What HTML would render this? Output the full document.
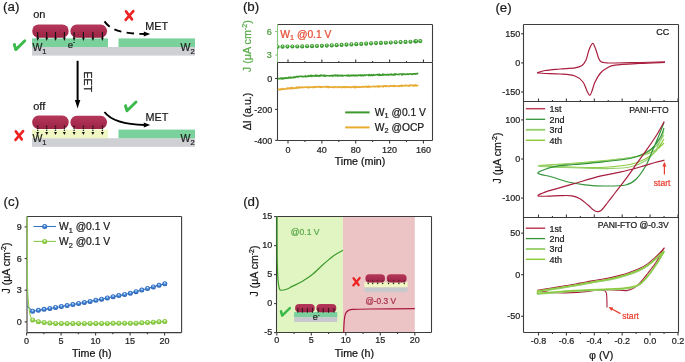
<!DOCTYPE html>
<html><head><meta charset="utf-8"><style>
html,body{margin:0;padding:0;background:#fff;}
svg{display:block;will-change:transform;}
text{font-family:"Liberation Sans", sans-serif;}
</style></head><body>
<svg width="685" height="362" viewBox="0 0 685 362" font-family='"Liberation Sans", sans-serif'>
<defs><filter id="soft" x="0" y="0" width="100%" height="100%" color-interpolation-filters="sRGB"><feGaussianBlur stdDeviation="0.3"/></filter></defs>
<g filter="url(#soft)">
<rect width="685" height="362" fill="#fff"/>
<defs>
<radialGradient id="gG" cx="0.5" cy="0.5" r="0.55" fx="0.48" fy="0.3"><stop offset="0" stop-color="#f4fff0"/><stop offset="0.22" stop-color="#9ad88a"/><stop offset="0.5" stop-color="#46a63a"/><stop offset="1" stop-color="#2a8424"/></radialGradient>
<radialGradient id="gB" cx="0.5" cy="0.5" r="0.55" fx="0.48" fy="0.3"><stop offset="0" stop-color="#f0f8ff"/><stop offset="0.22" stop-color="#8ab8f0"/><stop offset="0.5" stop-color="#3d7fd3"/><stop offset="1" stop-color="#2258a6"/></radialGradient>
<radialGradient id="gL" cx="0.5" cy="0.5" r="0.55" fx="0.48" fy="0.3"><stop offset="0" stop-color="#fbfff0"/><stop offset="0.22" stop-color="#c4ec98"/><stop offset="0.5" stop-color="#92d24e"/><stop offset="1" stop-color="#72b432"/></radialGradient>
<linearGradient id="blobG" x1="0" y1="0" x2="0" y2="1"><stop offset="0" stop-color="#b5385a"/><stop offset="1" stop-color="#9c2444"/></linearGradient>
<marker id="ah" markerWidth="6" markerHeight="6" refX="5" refY="3" orient="auto" markerUnits="userSpaceOnUse"><path d="M0,0 L6,3 L0,6 Z" fill="#000"/></marker>
</defs>
<text x="3.1" y="11.4" font-size="13.3" fill="#1a1a1a" text-anchor="start"  stroke="#1a1a1a" stroke-width="0.22">(a)</text>
<text x="33.2" y="17.7" font-size="11" fill="#1a1a1a" text-anchor="start"  stroke="#1a1a1a" stroke-width="0.22">on</text>
<text x="33.2" y="109.6" font-size="11" fill="#1a1a1a" text-anchor="start"  stroke="#1a1a1a" stroke-width="0.22">off</text>
<rect x="32" y="47.0" width="163" height="8.6" fill="#cfd0d4" />
<rect x="32" y="38.4" width="76" height="8.6" fill="#7bd19c" />
<rect x="118.5" y="38.4" width="76.5" height="8.6" fill="#7bd19c" />
<rect x="32.2" y="24.4" width="36.5" height="13.300000000000004" rx="6.32" ry="6.65" fill="url(#blobG)"/>
<rect x="70.4" y="24.599999999999998" width="36.599999999999994" height="13.100000000000005" rx="6.22" ry="6.55" fill="url(#blobG)"/>
<line x1="37.7" y1="31.9" x2="37.7" y2="38.9" stroke="#111" stroke-width="1.1" />
<path d="M36.300000000000004,37.599999999999994 L39.1,37.599999999999994 L37.7,41.0 Z" fill="#111"/>
<line x1="46.7" y1="31.9" x2="46.7" y2="38.9" stroke="#111" stroke-width="1.1" />
<path d="M45.300000000000004,37.599999999999994 L48.1,37.599999999999994 L46.7,41.0 Z" fill="#111"/>
<line x1="55.5" y1="31.9" x2="55.5" y2="38.9" stroke="#111" stroke-width="1.1" />
<path d="M54.1,37.599999999999994 L56.9,37.599999999999994 L55.5,41.0 Z" fill="#111"/>
<line x1="64.4" y1="31.9" x2="64.4" y2="38.9" stroke="#111" stroke-width="1.1" />
<path d="M63.00000000000001,37.599999999999994 L65.80000000000001,37.599999999999994 L64.4,41.0 Z" fill="#111"/>
<line x1="74.1" y1="31.9" x2="74.1" y2="38.9" stroke="#111" stroke-width="1.1" />
<path d="M72.69999999999999,37.599999999999994 L75.5,37.599999999999994 L74.1,41.0 Z" fill="#111"/>
<line x1="83.4" y1="31.9" x2="83.4" y2="38.9" stroke="#111" stroke-width="1.1" />
<path d="M82.0,37.599999999999994 L84.80000000000001,37.599999999999994 L83.4,41.0 Z" fill="#111"/>
<line x1="92.9" y1="31.9" x2="92.9" y2="38.9" stroke="#111" stroke-width="1.1" />
<path d="M91.5,37.599999999999994 L94.30000000000001,37.599999999999994 L92.9,41.0 Z" fill="#111"/>
<line x1="102.4" y1="31.9" x2="102.4" y2="38.9" stroke="#111" stroke-width="1.1" />
<path d="M101.0,37.599999999999994 L103.80000000000001,37.599999999999994 L102.4,41.0 Z" fill="#111"/>
<rect x="32" y="138.2" width="163" height="8.6" fill="#cfd0d4" />
<rect x="32" y="129.6" width="76" height="8.6" fill="#f0f7c2" />
<rect x="118.5" y="129.6" width="76.5" height="8.6" fill="#7bd19c" />
<rect x="32.2" y="115.6" width="36.5" height="13.300000000000011" rx="6.32" ry="6.65" fill="url(#blobG)"/>
<rect x="70.4" y="115.8" width="36.599999999999994" height="13.100000000000009" rx="6.22" ry="6.55" fill="url(#blobG)"/>
<circle cx="37.7" cy="126.19999999999999" r="0.75" fill="#111"/>
<circle cx="37.7" cy="128.2" r="0.75" fill="#111"/>
<circle cx="37.7" cy="130.2" r="0.75" fill="#111"/>
<path d="M36.2,132.0 L39.2,132.0 L37.7,135.0 Z" fill="#111"/>
<circle cx="46.7" cy="126.19999999999999" r="0.75" fill="#111"/>
<circle cx="46.7" cy="128.2" r="0.75" fill="#111"/>
<circle cx="46.7" cy="130.2" r="0.75" fill="#111"/>
<path d="M45.2,132.0 L48.2,132.0 L46.7,135.0 Z" fill="#111"/>
<circle cx="55.5" cy="126.19999999999999" r="0.75" fill="#111"/>
<circle cx="55.5" cy="128.2" r="0.75" fill="#111"/>
<circle cx="55.5" cy="130.2" r="0.75" fill="#111"/>
<path d="M54.0,132.0 L57.0,132.0 L55.5,135.0 Z" fill="#111"/>
<circle cx="64.4" cy="126.19999999999999" r="0.75" fill="#111"/>
<circle cx="64.4" cy="128.2" r="0.75" fill="#111"/>
<circle cx="64.4" cy="130.2" r="0.75" fill="#111"/>
<path d="M62.900000000000006,132.0 L65.9,132.0 L64.4,135.0 Z" fill="#111"/>
<circle cx="74.1" cy="126.19999999999999" r="0.75" fill="#111"/>
<circle cx="74.1" cy="128.2" r="0.75" fill="#111"/>
<circle cx="74.1" cy="130.2" r="0.75" fill="#111"/>
<path d="M72.6,132.0 L75.6,132.0 L74.1,135.0 Z" fill="#111"/>
<circle cx="83.4" cy="126.19999999999999" r="0.75" fill="#111"/>
<circle cx="83.4" cy="128.2" r="0.75" fill="#111"/>
<circle cx="83.4" cy="130.2" r="0.75" fill="#111"/>
<path d="M81.9,132.0 L84.9,132.0 L83.4,135.0 Z" fill="#111"/>
<circle cx="92.9" cy="126.19999999999999" r="0.75" fill="#111"/>
<circle cx="92.9" cy="128.2" r="0.75" fill="#111"/>
<circle cx="92.9" cy="130.2" r="0.75" fill="#111"/>
<path d="M91.4,132.0 L94.4,132.0 L92.9,135.0 Z" fill="#111"/>
<circle cx="102.4" cy="126.19999999999999" r="0.75" fill="#111"/>
<circle cx="102.4" cy="128.2" r="0.75" fill="#111"/>
<circle cx="102.4" cy="130.2" r="0.75" fill="#111"/>
<path d="M100.9,132.0 L103.9,132.0 L102.4,135.0 Z" fill="#111"/>
<text x="32.4" y="51.2" font-size="10.5" fill="#222" stroke="#222" stroke-width="0.22">W<tspan font-size="7.5" dy="3">1</tspan></text>
<text x="180.6" y="51.2" font-size="10.5" fill="#222" stroke="#222" stroke-width="0.22">W<tspan font-size="7.5" dy="3">2</tspan></text>
<text x="32.4" y="142.4" font-size="10.5" fill="#222" stroke="#222" stroke-width="0.22">W<tspan font-size="7.5" dy="3">1</tspan></text>
<text x="180.6" y="142.4" font-size="10.5" fill="#222" stroke="#222" stroke-width="0.22">W<tspan font-size="7.5" dy="3">2</tspan></text>
<text x="67.8" y="47.6" font-size="9.5" fill="#222" stroke="#222" stroke-width="0.22">e<tspan font-size="6" dy="-4">-</tspan></text>
<text x="145.3" y="29.6" font-size="10.8" fill="#1a1a1a" text-anchor="start"  stroke="#1a1a1a" stroke-width="0.22">MET</text>
<text x="145.5" y="120.6" font-size="10.8" fill="#1a1a1a" text-anchor="start"  stroke="#1a1a1a" stroke-width="0.22">MET</text>
<path d="M104.5,21.4 C110,29.5 121,33.6 145,34" fill="none" stroke="#000" stroke-width="1.9" stroke-dasharray="7.4,5.4"/>
<path d="M143.8,31.4 L150.2,34 L143.8,36.6 Z" fill="#000"/>
<path d="M104.5,112 C110,119.5 122,124.5 145,125" fill="none" stroke="#000" stroke-width="1.9"/>
<path d="M143.8,122.4 L150.2,125 L143.8,127.6 Z" fill="#000"/>
<line x1="77.6" y1="60.8" x2="77.6" y2="101" stroke="#000" stroke-width="2" />
<path d="M74.9,100 L80.3,100 L77.6,108.6 Z" fill="#000"/>
<text transform="translate(83.8,71.6) rotate(90)" font-size="10.5" fill="#1a1a1a" stroke="#1a1a1a" stroke-width="0.22">EET</text>
<path d="M126.00,11.40 L132.00,19.40 M133.30,11.10 L125.70,19.90" stroke="#ee2222" stroke-width="2.60" stroke-linecap="round" fill="none"/>
<path d="M15.80,131.40 L21.80,139.40 M23.10,131.10 L15.50,139.90" stroke="#ee2222" stroke-width="2.60" stroke-linecap="round" fill="none"/>
<path d="M14.30,44.60 L15.80,49.60 L24.80,40.80" stroke="#3cba4c" stroke-width="2.90" stroke-linecap="round" stroke-linejoin="round" fill="none"/>
<path d="M13.20,44.00 L15.40,43.40 L16.40,48.10 L15.00,50.20 Z" fill="#3cba4c"/>
<path d="M125.50,105.80 L127.00,110.80 L136.00,102.00" stroke="#3cba4c" stroke-width="2.90" stroke-linecap="round" stroke-linejoin="round" fill="none"/>
<path d="M124.40,105.20 L126.60,104.60 L127.60,109.30 L126.20,111.40 Z" fill="#3cba4c"/>
<text x="242.9" y="11.4" font-size="13.3" fill="#1a1a1a" text-anchor="start"  stroke="#1a1a1a" stroke-width="0.22">(b)</text>
<line x1="277.5" y1="24.5" x2="432.5" y2="24.5" stroke="#3c3c3c" stroke-width="1.1" />
<line x1="432.5" y1="24.5" x2="432.5" y2="62.5" stroke="#3c3c3c" stroke-width="1.1" />
<line x1="277.5" y1="24.5" x2="277.5" y2="62.5" stroke="#88c47c" stroke-width="1.1" />
<line x1="275.1" y1="55.0" x2="277.5" y2="55.0" stroke="#88c47c" stroke-width="1.1" />
<text x="271.8" y="58.2" font-size="9" fill="#4a9a3a" text-anchor="end"  stroke="#4a9a3a" stroke-width="0.22">3</text>
<line x1="275.1" y1="31.509999999999998" x2="277.5" y2="31.509999999999998" stroke="#88c47c" stroke-width="1.1" />
<text x="271.8" y="34.71" font-size="9" fill="#4a9a3a" text-anchor="end"  stroke="#4a9a3a" stroke-width="0.22">6</text>
<line x1="288.0" y1="62.5" x2="288.0" y2="59.5" stroke="#3c3c3c" stroke-width="1.1" />
<line x1="304.93" y1="62.5" x2="304.93" y2="60.9" stroke="#3c3c3c" stroke-width="1.1" />
<line x1="321.86" y1="62.5" x2="321.86" y2="59.5" stroke="#3c3c3c" stroke-width="1.1" />
<line x1="338.79" y1="62.5" x2="338.79" y2="60.9" stroke="#3c3c3c" stroke-width="1.1" />
<line x1="355.72" y1="62.5" x2="355.72" y2="59.5" stroke="#3c3c3c" stroke-width="1.1" />
<line x1="372.65" y1="62.5" x2="372.65" y2="60.9" stroke="#3c3c3c" stroke-width="1.1" />
<line x1="389.58" y1="62.5" x2="389.58" y2="59.5" stroke="#3c3c3c" stroke-width="1.1" />
<line x1="406.51" y1="62.5" x2="406.51" y2="60.9" stroke="#3c3c3c" stroke-width="1.1" />
<line x1="423.44" y1="62.5" x2="423.44" y2="59.5" stroke="#3c3c3c" stroke-width="1.1" />
<clipPath id="cpb"><rect x="277.3" y="24" width="156" height="40"/></clipPath><g clip-path="url(#cpb)">
<circle cx="277.60" cy="46.70" r="2.05" fill="url(#gG)"/>
<circle cx="282.52" cy="46.65" r="2.05" fill="url(#gG)"/>
<circle cx="287.44" cy="46.59" r="2.05" fill="url(#gG)"/>
<circle cx="292.36" cy="46.54" r="2.05" fill="url(#gG)"/>
<circle cx="297.28" cy="46.48" r="2.05" fill="url(#gG)"/>
<circle cx="302.20" cy="46.39" r="2.05" fill="url(#gG)"/>
<circle cx="307.12" cy="46.26" r="2.05" fill="url(#gG)"/>
<circle cx="312.04" cy="46.13" r="2.05" fill="url(#gG)"/>
<circle cx="316.96" cy="46.01" r="2.05" fill="url(#gG)"/>
<circle cx="321.88" cy="45.86" r="2.05" fill="url(#gG)"/>
<circle cx="326.80" cy="45.62" r="2.05" fill="url(#gG)"/>
<circle cx="331.72" cy="45.38" r="2.05" fill="url(#gG)"/>
<circle cx="336.64" cy="45.15" r="2.05" fill="url(#gG)"/>
<circle cx="341.56" cy="44.91" r="2.05" fill="url(#gG)"/>
<circle cx="346.48" cy="44.67" r="2.05" fill="url(#gG)"/>
<circle cx="351.40" cy="44.42" r="2.05" fill="url(#gG)"/>
<circle cx="356.32" cy="44.15" r="2.05" fill="url(#gG)"/>
<circle cx="361.24" cy="43.89" r="2.05" fill="url(#gG)"/>
<circle cx="366.16" cy="43.63" r="2.05" fill="url(#gG)"/>
<circle cx="371.08" cy="43.36" r="2.05" fill="url(#gG)"/>
<circle cx="376.00" cy="43.10" r="2.05" fill="url(#gG)"/>
<circle cx="380.92" cy="42.90" r="2.05" fill="url(#gG)"/>
<circle cx="385.84" cy="42.71" r="2.05" fill="url(#gG)"/>
<circle cx="390.76" cy="42.51" r="2.05" fill="url(#gG)"/>
<circle cx="395.68" cy="42.31" r="2.05" fill="url(#gG)"/>
<circle cx="400.60" cy="42.12" r="2.05" fill="url(#gG)"/>
<circle cx="405.52" cy="41.92" r="2.05" fill="url(#gG)"/>
<circle cx="410.44" cy="41.72" r="2.05" fill="url(#gG)"/>
<circle cx="415.36" cy="41.37" r="2.05" fill="url(#gG)"/>
<circle cx="420.28" cy="41.10" r="2.05" fill="url(#gG)"/>
<circle cx="416.2" cy="41.2" r="2.05" fill="url(#gG)"/>
</g>
<text x="280.3" y="37.6" font-size="10.3" fill="#e54a32" stroke="#e54a32" stroke-width="0.22">W<tspan font-size="7.3" dy="2.6">1</tspan><tspan dy="-2.6"> @0.1 V</tspan></text>
<text transform="translate(250.8,46.2) rotate(-90)" font-size="10.8" fill="#5aaa4a" text-anchor="middle" stroke="#5aaa4a" stroke-width="0.22">J (μA cm<tspan font-size="7" dy="-3.5">-2</tspan><tspan dy="3.5">)</tspan></text>
<line x1="277.5" y1="62.5" x2="432.5" y2="62.5" stroke="#3c3c3c" stroke-width="1.1" />
<line x1="432.5" y1="62.5" x2="432.5" y2="140.5" stroke="#3c3c3c" stroke-width="1.1" />
<line x1="277.5" y1="62.5" x2="277.5" y2="140.5" stroke="#3c3c3c" stroke-width="1.1" />
<line x1="277.5" y1="140.5" x2="432.5" y2="140.5" stroke="#3c3c3c" stroke-width="1.1" />
<line x1="275.1" y1="78.5" x2="277.5" y2="78.5" stroke="#3c3c3c" stroke-width="1.1" />
<text x="272.2" y="81.7" font-size="9" fill="#222" text-anchor="end"  stroke="#222" stroke-width="0.22">0</text>
<line x1="275.1" y1="109.45" x2="277.5" y2="109.45" stroke="#3c3c3c" stroke-width="1.1" />
<text x="272.2" y="112.65" font-size="9" fill="#222" text-anchor="end"  stroke="#222" stroke-width="0.22">-200</text>
<line x1="275.1" y1="140.4" x2="277.5" y2="140.4" stroke="#3c3c3c" stroke-width="1.1" />
<text x="272.2" y="143.6" font-size="9" fill="#222" text-anchor="end"  stroke="#222" stroke-width="0.22">-400</text>
<line x1="288.0" y1="140.5" x2="288.0" y2="143.5" stroke="#3c3c3c" stroke-width="1.1" />
<line x1="304.93" y1="140.5" x2="304.93" y2="142.1" stroke="#3c3c3c" stroke-width="1.1" />
<line x1="321.86" y1="140.5" x2="321.86" y2="143.5" stroke="#3c3c3c" stroke-width="1.1" />
<line x1="338.79" y1="140.5" x2="338.79" y2="142.1" stroke="#3c3c3c" stroke-width="1.1" />
<line x1="355.72" y1="140.5" x2="355.72" y2="143.5" stroke="#3c3c3c" stroke-width="1.1" />
<line x1="372.65" y1="140.5" x2="372.65" y2="142.1" stroke="#3c3c3c" stroke-width="1.1" />
<line x1="389.58" y1="140.5" x2="389.58" y2="143.5" stroke="#3c3c3c" stroke-width="1.1" />
<line x1="406.51" y1="140.5" x2="406.51" y2="142.1" stroke="#3c3c3c" stroke-width="1.1" />
<line x1="423.44" y1="140.5" x2="423.44" y2="143.5" stroke="#3c3c3c" stroke-width="1.1" />
<text x="288.0" y="152.6" font-size="9" fill="#222" text-anchor="middle"  stroke="#222" stroke-width="0.22">0</text>
<text x="321.86" y="152.6" font-size="9" fill="#222" text-anchor="middle"  stroke="#222" stroke-width="0.22">40</text>
<text x="355.72" y="152.6" font-size="9" fill="#222" text-anchor="middle"  stroke="#222" stroke-width="0.22">80</text>
<text x="389.58" y="152.6" font-size="9" fill="#222" text-anchor="middle"  stroke="#222" stroke-width="0.22">120</text>
<text x="423.44" y="152.6" font-size="9" fill="#222" text-anchor="middle"  stroke="#222" stroke-width="0.22">160</text>
<text x="360.0" y="165.0" font-size="10.7" fill="#111" text-anchor="middle"  stroke="#111" stroke-width="0.22">Time (min)</text>
<text transform="translate(251.4,111.5) rotate(-90)" font-size="10.5" fill="#111" text-anchor="middle" stroke="#111" stroke-width="0.22">ΔI (a.u.)</text>
<path d="M277.80,78.50 L278.30,78.73 L278.80,78.53 L279.30,78.70 L279.80,78.68 L280.30,78.13 L280.80,78.04 L281.30,78.74 L281.80,78.18 L282.30,78.11 L282.80,78.76 L283.30,78.24 L283.80,78.53 L284.30,78.16 L284.80,78.27 L285.30,77.78 L285.80,78.18 L286.30,78.34 L286.80,77.99 L287.30,78.15 L287.80,78.04 L288.30,77.45 L288.80,78.03 L289.30,77.84 L289.80,77.54 L290.30,77.24 L290.80,77.92 L291.30,77.51 L291.80,77.66 L292.30,77.74 L292.80,77.53 L293.30,77.65 L293.80,77.11 L294.30,77.41 L294.80,77.03 L295.30,77.40 L295.80,77.29 L296.30,76.52 L296.80,76.49 L297.30,76.50 L297.80,77.10 L298.30,76.56 L298.80,76.67 L299.30,76.31 L299.80,76.43 L300.30,76.29 L300.80,76.23 L301.30,76.43 L301.80,76.41 L302.30,76.67 L302.80,76.45 L303.30,76.66 L303.80,76.57 L304.30,76.67 L304.80,76.37 L305.30,75.89 L305.80,76.50 L306.30,76.57 L306.80,76.50 L307.30,76.18 L307.80,76.29 L308.30,75.82 L308.80,76.36 L309.30,76.10 L309.80,75.83 L310.30,75.61 L310.80,76.30 L311.30,76.40 L311.80,75.57 L312.30,76.19 L312.80,75.82 L313.30,75.57 L313.80,75.68 L314.30,76.09 L314.80,76.16 L315.30,75.39 L315.80,75.89 L316.30,75.36 L316.80,75.94 L317.30,75.58 L317.80,76.05 L318.30,76.13 L318.80,75.70 L319.30,76.14 L319.80,75.52 L320.30,75.31 L320.80,75.78 L321.30,75.27 L321.80,75.42 L322.30,75.60 L322.80,75.78 L323.30,75.37 L323.80,75.27 L324.30,76.01 L324.80,75.51 L325.30,76.09 L325.80,76.03 L326.30,75.56 L326.80,75.64 L327.30,75.69 L327.80,75.80 L328.30,75.75 L328.80,75.72 L329.30,75.77 L329.80,76.06 L330.30,75.67 L330.80,75.60 L331.30,75.86 L331.80,75.42 L332.30,75.48 L332.80,76.08 L333.30,75.67 L333.80,75.69 L334.30,75.21 L334.80,75.57 L335.30,75.72 L335.80,75.21 L336.30,75.75 L336.80,75.76 L337.30,75.24 L337.80,75.75 L338.30,75.61 L338.80,75.80 L339.30,75.50 L339.80,75.82 L340.30,75.84 L340.80,75.20 L341.30,75.23 L341.80,75.78 L342.30,76.04 L342.80,75.40 L343.30,75.58 L343.80,75.70 L344.30,75.46 L344.80,75.49 L345.30,75.45 L345.80,75.50 L346.30,75.70 L346.80,75.43 L347.30,75.50 L347.80,75.85 L348.30,75.18 L348.80,75.67 L349.30,75.81 L349.80,75.43 L350.30,75.34 L350.80,75.85 L351.30,75.33 L351.80,75.27 L352.30,75.48 L352.80,75.70 L353.30,75.15 L353.80,75.34 L354.30,75.34 L354.80,75.77 L355.30,75.40 L355.80,75.77 L356.30,75.13 L356.80,75.27 L357.30,75.54 L357.80,75.74 L358.30,75.33 L358.80,75.12 L359.30,75.01 L359.80,75.37 L360.30,75.05 L360.80,75.59 L361.30,75.60 L361.80,75.00 L362.30,75.07 L362.80,75.54 L363.30,75.37 L363.80,75.51 L364.30,75.08 L364.80,74.87 L365.30,75.00 L365.80,75.44 L366.30,74.96 L366.80,75.01 L367.30,75.06 L367.80,75.05 L368.30,75.03 L368.80,75.48 L369.30,74.78 L369.80,74.63 L370.30,75.46 L370.80,75.39 L371.30,75.47 L371.80,74.96 L372.30,75.41 L372.80,75.38 L373.30,74.73 L373.80,75.19 L374.30,75.26 L374.80,75.09 L375.30,74.94 L375.80,74.72 L376.30,74.76 L376.80,74.64 L377.30,74.48 L377.80,74.94 L378.30,74.65 L378.80,75.11 L379.30,74.41 L379.80,75.17 L380.30,74.97 L380.80,75.17 L381.30,75.13 L381.80,75.12 L382.30,74.82 L382.80,74.31 L383.30,74.95 L383.80,74.43 L384.30,74.53 L384.80,74.85 L385.30,74.72 L385.80,74.61 L386.30,75.07 L386.80,74.76 L387.30,74.51 L387.80,74.42 L388.30,74.96 L388.80,74.60 L389.30,74.87 L389.80,74.47 L390.30,74.32 L390.80,74.62 L391.30,74.86 L391.80,74.27 L392.30,74.82 L392.80,74.92 L393.30,74.81 L393.80,74.82 L394.30,74.07 L394.80,74.62 L395.30,74.82 L395.80,74.08 L396.30,74.27 L396.80,74.26 L397.30,74.48 L397.80,74.37 L398.30,74.41 L398.80,74.67 L399.30,73.97 L399.80,74.00 L400.30,74.06 L400.80,74.05 L401.30,73.99 L401.80,74.79 L402.30,74.67 L402.80,73.97 L403.30,74.34 L403.80,74.16 L404.30,74.15 L404.80,74.17 L405.30,74.43 L405.80,74.36 L406.30,74.15 L406.80,73.99 L407.30,74.10 L407.80,73.91 L408.30,74.28 L408.80,74.42 L409.30,74.11 L409.80,73.83 L410.30,73.89 L410.80,74.03 L411.30,74.20 L411.80,74.33 L412.30,73.93 L412.80,74.28 L413.30,74.08 L413.80,73.87 L414.30,73.79 L414.80,73.86 L415.30,74.01 L415.80,73.72 L416.30,73.94 L416.80,73.69 L417.30,73.46 L417.80,73.69 L418.30,73.80" fill="none" stroke="#3c9a2c" stroke-width="1.6"/>
<path d="M277.80,89.13 L278.30,89.40 L278.80,89.35 L279.30,89.71 L279.80,89.71 L280.30,89.16 L280.80,89.58 L281.30,89.43 L281.80,88.91 L282.30,89.04 L282.80,88.68 L283.30,89.25 L283.80,89.07 L284.30,89.22 L284.80,89.08 L285.30,88.92 L285.80,88.93 L286.30,88.73 L286.80,88.26 L287.30,88.65 L287.80,88.07 L288.30,88.15 L288.80,88.67 L289.30,87.96 L289.80,87.95 L290.30,87.92 L290.80,88.58 L291.30,87.91 L291.80,87.73 L292.30,88.42 L292.80,87.74 L293.30,88.35 L293.80,88.15 L294.30,88.26 L294.80,88.32 L295.30,87.95 L295.80,88.10 L296.30,87.38 L296.80,88.00 L297.30,87.73 L297.80,87.87 L298.30,87.28 L298.80,87.82 L299.30,87.95 L299.80,87.12 L300.30,87.33 L300.80,87.53 L301.30,87.75 L301.80,87.21 L302.30,87.14 L302.80,87.18 L303.30,87.49 L303.80,87.60 L304.30,87.26 L304.80,87.22 L305.30,87.23 L305.80,87.17 L306.30,87.22 L306.80,86.90 L307.30,87.26 L307.80,87.67 L308.30,87.14 L308.80,87.43 L309.30,86.88 L309.80,87.35 L310.30,87.39 L310.80,87.30 L311.30,87.14 L311.80,87.09 L312.30,87.22 L312.80,87.43 L313.30,86.74 L313.80,86.68 L314.30,87.25 L314.80,87.38 L315.30,87.01 L315.80,86.92 L316.30,87.15 L316.80,86.66 L317.30,86.71 L317.80,86.64 L318.30,86.98 L318.80,86.74 L319.30,86.67 L319.80,87.09 L320.30,87.33 L320.80,86.74 L321.30,87.12 L321.80,86.86 L322.30,87.26 L322.80,87.02 L323.30,86.74 L323.80,86.70 L324.30,86.53 L324.80,86.95 L325.30,86.86 L325.80,86.68 L326.30,86.85 L326.80,86.82 L327.30,87.23 L327.80,86.67 L328.30,87.44 L328.80,86.98 L329.30,87.10 L329.80,86.98 L330.30,87.32 L330.80,87.31 L331.30,87.08 L331.80,87.01 L332.30,87.23 L332.80,87.36 L333.30,86.95 L333.80,87.26 L334.30,87.47 L334.80,87.03 L335.30,86.82 L335.80,86.83 L336.30,87.27 L336.80,87.23 L337.30,87.49 L337.80,87.40 L338.30,86.86 L338.80,86.82 L339.30,86.88 L339.80,86.82 L340.30,87.29 L340.80,87.44 L341.30,87.48 L341.80,86.90 L342.30,87.46 L342.80,86.96 L343.30,87.07 L343.80,87.35 L344.30,86.77 L344.80,86.78 L345.30,87.46 L345.80,86.97 L346.30,87.04 L346.80,87.24 L347.30,87.33 L347.80,86.74 L348.30,87.04 L348.80,87.13 L349.30,87.18 L349.80,86.94 L350.30,87.27 L350.80,87.59 L351.30,87.07 L351.80,87.19 L352.30,86.80 L352.80,86.92 L353.30,87.26 L353.80,86.75 L354.30,87.43 L354.80,87.44 L355.30,86.70 L355.80,87.44 L356.30,86.92 L356.80,87.26 L357.30,87.24 L357.80,86.81 L358.30,87.14 L358.80,87.10 L359.30,87.23 L359.80,86.73 L360.30,87.15 L360.80,87.33 L361.30,87.05 L361.80,86.92 L362.30,86.52 L362.80,86.85 L363.30,86.71 L363.80,87.03 L364.30,86.98 L364.80,86.87 L365.30,86.51 L365.80,86.91 L366.30,86.88 L366.80,86.46 L367.30,87.09 L367.80,86.87 L368.30,86.37 L368.80,87.09 L369.30,86.36 L369.80,86.52 L370.30,86.86 L370.80,86.73 L371.30,86.68 L371.80,86.75 L372.30,86.57 L372.80,86.42 L373.30,86.29 L373.80,86.18 L374.30,86.75 L374.80,86.77 L375.30,86.56 L375.80,86.73 L376.30,86.37 L376.80,86.27 L377.30,86.37 L377.80,86.79 L378.30,86.03 L378.80,86.44 L379.30,86.19 L379.80,86.65 L380.30,86.26 L380.80,86.23 L381.30,86.28 L381.80,86.39 L382.30,86.58 L382.80,86.19 L383.30,86.62 L383.80,85.94 L384.30,86.07 L384.80,85.90 L385.30,85.90 L385.80,86.49 L386.30,86.43 L386.80,85.92 L387.30,85.91 L387.80,86.10 L388.30,86.38 L388.80,86.43 L389.30,86.36 L389.80,86.20 L390.30,85.79 L390.80,86.00 L391.30,85.80 L391.80,86.09 L392.30,86.11 L392.80,85.77 L393.30,85.80 L393.80,86.26 L394.30,85.57 L394.80,86.25 L395.30,86.32 L395.80,86.35 L396.30,85.83 L396.80,85.97 L397.30,85.98 L397.80,86.01 L398.30,86.31 L398.80,86.03 L399.30,85.67 L399.80,86.16 L400.30,85.81 L400.80,85.90 L401.30,86.00 L401.80,85.33 L402.30,86.01 L402.80,85.90 L403.30,85.73 L403.80,85.74 L404.30,85.67 L404.80,85.42 L405.30,85.71 L405.80,85.25 L406.30,85.65 L406.80,85.77 L407.30,85.57 L407.80,85.67 L408.30,86.01 L408.80,85.93 L409.30,85.24 L409.80,85.81 L410.30,85.65 L410.80,85.12 L411.30,85.38 L411.80,85.25 L412.30,85.10 L412.80,85.50 L413.30,85.84 L413.80,85.28 L414.30,85.76 L414.80,85.58 L415.30,85.06 L415.80,85.70 L416.30,85.46 L416.80,85.74 L417.30,85.53 L417.80,85.54 L418.30,85.17" fill="none" stroke="#e8aa30" stroke-width="1.6"/>
<line x1="345.2" y1="112.4" x2="369.6" y2="112.4" stroke="#3c9a2c" stroke-width="2.0" />
<line x1="345.2" y1="127.4" x2="369.6" y2="127.4" stroke="#e8aa30" stroke-width="2.0" />
<text x="374.8" y="115.5" font-size="10.3" fill="#1a1a1a" stroke="#1a1a1a" stroke-width="0.22">W<tspan font-size="7.3" dy="2.6">1</tspan><tspan dy="-2.6"> @0.1 V</tspan></text>
<text x="374.8" y="130.5" font-size="10.3" fill="#1a1a1a" stroke="#1a1a1a" stroke-width="0.22">W<tspan font-size="7.3" dy="2.6">2</tspan><tspan dy="-2.6"> @OCP</tspan></text>
<text x="3.6" y="206.1" font-size="13.3" fill="#1a1a1a" text-anchor="start"  stroke="#1a1a1a" stroke-width="0.22">(c)</text>
<line x1="27.0" y1="216.5" x2="181.6" y2="216.5" stroke="#3c3c3c" stroke-width="1.1" />
<line x1="181.6" y1="216.5" x2="181.6" y2="332.6" stroke="#3c3c3c" stroke-width="1.1" />
<line x1="27.0" y1="216.5" x2="27.0" y2="332.6" stroke="#3c3c3c" stroke-width="1.1" />
<line x1="27.0" y1="332.6" x2="181.6" y2="332.6" stroke="#3c3c3c" stroke-width="1.1" />
<line x1="24.6" y1="321.9" x2="27.0" y2="321.9" stroke="#3c3c3c" stroke-width="1.1" />
<text x="21.8" y="325.09999999999997" font-size="9" fill="#222" text-anchor="end"  stroke="#222" stroke-width="0.22">0</text>
<line x1="24.6" y1="290.21999999999997" x2="27.0" y2="290.21999999999997" stroke="#3c3c3c" stroke-width="1.1" />
<text x="21.8" y="293.41999999999996" font-size="9" fill="#222" text-anchor="end"  stroke="#222" stroke-width="0.22">3</text>
<line x1="24.6" y1="258.53999999999996" x2="27.0" y2="258.53999999999996" stroke="#3c3c3c" stroke-width="1.1" />
<text x="21.8" y="261.73999999999995" font-size="9" fill="#222" text-anchor="end"  stroke="#222" stroke-width="0.22">6</text>
<line x1="24.6" y1="226.85999999999996" x2="27.0" y2="226.85999999999996" stroke="#3c3c3c" stroke-width="1.1" />
<text x="21.8" y="230.05999999999995" font-size="9" fill="#222" text-anchor="end"  stroke="#222" stroke-width="0.22">9</text>
<line x1="26.6" y1="332.6" x2="26.6" y2="335.6" stroke="#3c3c3c" stroke-width="1.1" />
<line x1="43.85" y1="332.6" x2="43.85" y2="334.20000000000005" stroke="#3c3c3c" stroke-width="1.1" />
<line x1="61.1" y1="332.6" x2="61.1" y2="335.6" stroke="#3c3c3c" stroke-width="1.1" />
<line x1="78.35" y1="332.6" x2="78.35" y2="334.20000000000005" stroke="#3c3c3c" stroke-width="1.1" />
<line x1="95.6" y1="332.6" x2="95.6" y2="335.6" stroke="#3c3c3c" stroke-width="1.1" />
<line x1="112.85" y1="332.6" x2="112.85" y2="334.20000000000005" stroke="#3c3c3c" stroke-width="1.1" />
<line x1="130.1" y1="332.6" x2="130.1" y2="335.6" stroke="#3c3c3c" stroke-width="1.1" />
<line x1="147.35" y1="332.6" x2="147.35" y2="334.20000000000005" stroke="#3c3c3c" stroke-width="1.1" />
<line x1="164.6" y1="332.6" x2="164.6" y2="335.6" stroke="#3c3c3c" stroke-width="1.1" />
<text x="26.6" y="344.3" font-size="9" fill="#222" text-anchor="middle"  stroke="#222" stroke-width="0.22">0</text>
<text x="61.1" y="344.3" font-size="9" fill="#222" text-anchor="middle"  stroke="#222" stroke-width="0.22">5</text>
<text x="95.6" y="344.3" font-size="9" fill="#222" text-anchor="middle"  stroke="#222" stroke-width="0.22">10</text>
<text x="130.1" y="344.3" font-size="9" fill="#222" text-anchor="middle"  stroke="#222" stroke-width="0.22">15</text>
<text x="164.6" y="344.3" font-size="9" fill="#222" text-anchor="middle"  stroke="#222" stroke-width="0.22">20</text>
<text x="91.8" y="356.5" font-size="10.7" fill="#111" text-anchor="middle"  stroke="#111" stroke-width="0.22">Time (h)</text>
<text transform="translate(9.6,268) rotate(-90)" font-size="10.5" fill="#111" text-anchor="middle" stroke="#111" stroke-width="0.22">J (μA cm<tspan font-size="7" dy="-3.5">-2</tspan><tspan dy="3.5">)</tspan></text>
<path d="M27.29,306.06 L32.60,311.23 L38.35,310.30 L44.10,309.36 L49.85,308.42 L55.59,307.49 L61.34,306.55 L67.09,305.56 L72.84,304.58 L78.58,303.51 L84.33,302.45 L90.08,301.38 L95.83,300.31 L101.58,299.13 L107.32,297.95 L113.07,296.77 L118.82,295.60 L124.57,294.42 L130.31,293.22 L136.06,291.64 L141.81,290.06 L147.56,288.47 L153.30,286.89 L159.05,285.31 L164.80,283.78" fill="none" stroke="#3a78c8" stroke-width="1.1"/>
<path d="M27.15,216.50 L27.43,284.94 C28.33,311.34 30.05,318.73 32.60,319.89 L38.35,321.69 L44.10,322.45 L49.85,323.04 L55.59,323.48 L61.34,323.48 L67.09,323.48 L72.84,323.48 L78.58,323.48 L84.33,323.48 L90.08,323.48 L95.83,323.48 L101.58,323.44 L107.32,323.39 L113.07,323.35 L118.82,323.31 L124.57,323.26 L130.31,323.22 L136.06,323.17 L141.81,322.87 L147.56,322.52 L153.30,322.17 L159.05,321.82 L164.80,321.48" fill="none" stroke="#8ccc4a" stroke-width="1.1"/>
<circle cx="32.60" cy="311.23" r="2.5" fill="url(#gB)"/>
<circle cx="38.35" cy="310.30" r="2.5" fill="url(#gB)"/>
<circle cx="44.10" cy="309.36" r="2.5" fill="url(#gB)"/>
<circle cx="49.85" cy="308.42" r="2.5" fill="url(#gB)"/>
<circle cx="55.59" cy="307.49" r="2.5" fill="url(#gB)"/>
<circle cx="61.34" cy="306.55" r="2.5" fill="url(#gB)"/>
<circle cx="67.09" cy="305.56" r="2.5" fill="url(#gB)"/>
<circle cx="72.84" cy="304.58" r="2.5" fill="url(#gB)"/>
<circle cx="78.58" cy="303.51" r="2.5" fill="url(#gB)"/>
<circle cx="84.33" cy="302.45" r="2.5" fill="url(#gB)"/>
<circle cx="90.08" cy="301.38" r="2.5" fill="url(#gB)"/>
<circle cx="95.83" cy="300.31" r="2.5" fill="url(#gB)"/>
<circle cx="101.58" cy="299.13" r="2.5" fill="url(#gB)"/>
<circle cx="107.32" cy="297.95" r="2.5" fill="url(#gB)"/>
<circle cx="113.07" cy="296.77" r="2.5" fill="url(#gB)"/>
<circle cx="118.82" cy="295.60" r="2.5" fill="url(#gB)"/>
<circle cx="124.57" cy="294.42" r="2.5" fill="url(#gB)"/>
<circle cx="130.31" cy="293.22" r="2.5" fill="url(#gB)"/>
<circle cx="136.06" cy="291.64" r="2.5" fill="url(#gB)"/>
<circle cx="141.81" cy="290.06" r="2.5" fill="url(#gB)"/>
<circle cx="147.56" cy="288.47" r="2.5" fill="url(#gB)"/>
<circle cx="153.30" cy="286.89" r="2.5" fill="url(#gB)"/>
<circle cx="159.05" cy="285.31" r="2.5" fill="url(#gB)"/>
<circle cx="164.80" cy="283.78" r="2.5" fill="url(#gB)"/>
<circle cx="32.60" cy="319.89" r="2.5" fill="url(#gL)"/>
<circle cx="38.35" cy="321.69" r="2.5" fill="url(#gL)"/>
<circle cx="44.10" cy="322.45" r="2.5" fill="url(#gL)"/>
<circle cx="49.85" cy="323.04" r="2.5" fill="url(#gL)"/>
<circle cx="55.59" cy="323.48" r="2.5" fill="url(#gL)"/>
<circle cx="61.34" cy="323.48" r="2.5" fill="url(#gL)"/>
<circle cx="67.09" cy="323.48" r="2.5" fill="url(#gL)"/>
<circle cx="72.84" cy="323.48" r="2.5" fill="url(#gL)"/>
<circle cx="78.58" cy="323.48" r="2.5" fill="url(#gL)"/>
<circle cx="84.33" cy="323.48" r="2.5" fill="url(#gL)"/>
<circle cx="90.08" cy="323.48" r="2.5" fill="url(#gL)"/>
<circle cx="95.83" cy="323.48" r="2.5" fill="url(#gL)"/>
<circle cx="101.58" cy="323.44" r="2.5" fill="url(#gL)"/>
<circle cx="107.32" cy="323.39" r="2.5" fill="url(#gL)"/>
<circle cx="113.07" cy="323.35" r="2.5" fill="url(#gL)"/>
<circle cx="118.82" cy="323.31" r="2.5" fill="url(#gL)"/>
<circle cx="124.57" cy="323.26" r="2.5" fill="url(#gL)"/>
<circle cx="130.31" cy="323.22" r="2.5" fill="url(#gL)"/>
<circle cx="136.06" cy="323.17" r="2.5" fill="url(#gL)"/>
<circle cx="141.81" cy="322.87" r="2.5" fill="url(#gL)"/>
<circle cx="147.56" cy="322.52" r="2.5" fill="url(#gL)"/>
<circle cx="153.30" cy="322.17" r="2.5" fill="url(#gL)"/>
<circle cx="159.05" cy="321.82" r="2.5" fill="url(#gL)"/>
<circle cx="164.80" cy="321.48" r="2.5" fill="url(#gL)"/>
<line x1="33.5" y1="226.5" x2="56" y2="226.5" stroke="#3a78c8" stroke-width="1.1" />
<circle cx="44.7" cy="226.5" r="2.5" fill="url(#gB)"/>
<line x1="33.5" y1="241.4" x2="56" y2="241.4" stroke="#8ccc4a" stroke-width="1.1" />
<circle cx="44.7" cy="241.4" r="2.5" fill="url(#gL)"/>
<text x="59" y="230.2" font-size="10.3" fill="#1a1a1a" stroke="#1a1a1a" stroke-width="0.22">W<tspan font-size="7.3" dy="2.6">1</tspan><tspan dy="-2.6"> @0.1 V</tspan></text>
<text x="59" y="245.1" font-size="10.3" fill="#1a1a1a" stroke="#1a1a1a" stroke-width="0.22">W<tspan font-size="7.3" dy="2.6">2</tspan><tspan dy="-2.6"> @0.1 V</tspan></text>
<text x="243.2" y="206.1" font-size="13.3" fill="#1a1a1a" text-anchor="start"  stroke="#1a1a1a" stroke-width="0.22">(d)</text>
<rect x="276.5" y="216.5" width="66.5" height="116.0" fill="#e0f5c2" />
<rect x="343.0" y="216.5" width="71.80000000000001" height="116.0" fill="#ecc4c6" />
<line x1="276.5" y1="216.5" x2="431.5" y2="216.5" stroke="#3c3c3c" stroke-width="1.1" />
<line x1="431.5" y1="216.5" x2="431.5" y2="332.5" stroke="#3c3c3c" stroke-width="1.1" />
<line x1="276.5" y1="216.5" x2="276.5" y2="332.5" stroke="#3c3c3c" stroke-width="1.1" />
<line x1="276.5" y1="332.5" x2="431.5" y2="332.5" stroke="#3c3c3c" stroke-width="1.1" />
<line x1="274.1" y1="332.6" x2="276.5" y2="332.6" stroke="#3c3c3c" stroke-width="1.1" />
<text x="272.2" y="335.20000000000005" font-size="9" fill="#222" text-anchor="end"  stroke="#222" stroke-width="0.22">-5</text>
<line x1="274.1" y1="303.6" x2="276.5" y2="303.6" stroke="#3c3c3c" stroke-width="1.1" />
<text x="272.2" y="306.20000000000005" font-size="9" fill="#222" text-anchor="end"  stroke="#222" stroke-width="0.22">0</text>
<line x1="274.1" y1="274.6" x2="276.5" y2="274.6" stroke="#3c3c3c" stroke-width="1.1" />
<text x="272.2" y="277.20000000000005" font-size="9" fill="#222" text-anchor="end"  stroke="#222" stroke-width="0.22">5</text>
<line x1="274.1" y1="245.60000000000002" x2="276.5" y2="245.60000000000002" stroke="#3c3c3c" stroke-width="1.1" />
<text x="272.2" y="248.20000000000002" font-size="9" fill="#222" text-anchor="end"  stroke="#222" stroke-width="0.22">10</text>
<line x1="274.1" y1="216.60000000000002" x2="276.5" y2="216.60000000000002" stroke="#3c3c3c" stroke-width="1.1" />
<text x="272.2" y="219.20000000000002" font-size="9" fill="#222" text-anchor="end"  stroke="#222" stroke-width="0.22">15</text>
<line x1="276.8" y1="332.5" x2="276.8" y2="335.5" stroke="#3c3c3c" stroke-width="1.1" />
<line x1="294.05" y1="332.5" x2="294.05" y2="334.1" stroke="#3c3c3c" stroke-width="1.1" />
<line x1="311.3" y1="332.5" x2="311.3" y2="335.5" stroke="#3c3c3c" stroke-width="1.1" />
<line x1="328.55" y1="332.5" x2="328.55" y2="334.1" stroke="#3c3c3c" stroke-width="1.1" />
<line x1="345.8" y1="332.5" x2="345.8" y2="335.5" stroke="#3c3c3c" stroke-width="1.1" />
<line x1="363.05" y1="332.5" x2="363.05" y2="334.1" stroke="#3c3c3c" stroke-width="1.1" />
<line x1="380.3" y1="332.5" x2="380.3" y2="335.5" stroke="#3c3c3c" stroke-width="1.1" />
<line x1="397.55" y1="332.5" x2="397.55" y2="334.1" stroke="#3c3c3c" stroke-width="1.1" />
<line x1="414.8" y1="332.5" x2="414.8" y2="335.5" stroke="#3c3c3c" stroke-width="1.1" />
<text x="276.8" y="342.8" font-size="9" fill="#222" text-anchor="middle"  stroke="#222" stroke-width="0.22">0</text>
<text x="311.3" y="342.8" font-size="9" fill="#222" text-anchor="middle"  stroke="#222" stroke-width="0.22">5</text>
<text x="345.8" y="342.8" font-size="9" fill="#222" text-anchor="middle"  stroke="#222" stroke-width="0.22">10</text>
<text x="380.3" y="342.8" font-size="9" fill="#222" text-anchor="middle"  stroke="#222" stroke-width="0.22">15</text>
<text x="414.8" y="342.8" font-size="9" fill="#222" text-anchor="middle"  stroke="#222" stroke-width="0.22">20</text>
<text x="354.4" y="356.5" font-size="10.7" fill="#111" text-anchor="middle"  stroke="#111" stroke-width="0.22">Time (h)</text>
<text transform="translate(257.8,271) rotate(-90)" font-size="10.5" fill="#111" text-anchor="middle" stroke="#111" stroke-width="0.22">J (μA cm<tspan font-size="7" dy="-3.5">-2</tspan><tspan dy="3.5">)</tspan></text>
<path d="M277.10,216.50 C277.10,220.42 277.08,233.42 277.10,240.00 C277.12,246.58 277.15,251.67 277.20,256.00 C277.25,260.33 277.27,262.00 277.40,266.00 C277.53,270.00 277.68,276.25 278.00,280.00 C278.32,283.75 278.80,286.80 279.30,288.50 C279.80,290.20 279.82,290.07 281.00,290.20 C282.18,290.33 284.53,289.93 286.40,289.30 C288.27,288.67 289.58,287.72 292.20,286.40 C294.82,285.08 298.80,283.33 302.10,281.40 C305.40,279.47 308.40,277.70 312.00,274.80 C315.60,271.90 320.10,267.18 323.70,264.00 C327.30,260.82 330.38,257.98 333.60,255.70 C336.82,253.42 341.43,251.20 343.00,250.30" fill="none" stroke="#3c9a2c" stroke-width="1.2"/>
<path d="M343.60,332.60 C343.72,330.50 343.97,323.18 344.30,320.00 C344.63,316.82 344.90,315.10 345.60,313.50 C346.30,311.90 347.27,311.08 348.50,310.40 C349.73,309.72 349.42,309.63 353.00,309.40 C356.58,309.17 359.70,309.12 370.00,309.00 C380.30,308.88 407.33,308.75 414.80,308.70" fill="none" stroke="#a8183c" stroke-width="1.2"/>
<text x="290.8" y="235.4" font-size="8.6" fill="#5aa84a" text-anchor="start"  stroke="#5aa84a" stroke-width="0.22">@0.1 V</text>
<text x="365.4" y="304.4" font-size="8.3" fill="#a83048" text-anchor="start"  stroke="#a83048" stroke-width="0.22">@-0.3 V</text>
<rect x="294.1" y="317.0" width="43.2" height="5.0" fill="#c8c9cc" />
<rect x="294.1" y="312.1" width="43.2" height="4.9" fill="#7bd19c" />
<rect x="295.1" y="304.0" width="19.6" height="8.3" rx="4" fill="url(#blobG)"/>
<rect x="316.40000000000003" y="304.0" width="19.9" height="8.3" rx="4" fill="url(#blobG)"/>
<line x1="297.90000000000003" y1="308.0" x2="297.90000000000003" y2="312.8" stroke="#111" stroke-width="0.8" />
<line x1="302.40000000000003" y1="308.0" x2="302.40000000000003" y2="312.8" stroke="#111" stroke-width="0.8" />
<line x1="307.40000000000003" y1="308.0" x2="307.40000000000003" y2="312.8" stroke="#111" stroke-width="0.8" />
<line x1="312.40000000000003" y1="308.0" x2="312.40000000000003" y2="312.8" stroke="#111" stroke-width="0.8" />
<line x1="318.20000000000005" y1="308.0" x2="318.20000000000005" y2="312.8" stroke="#111" stroke-width="0.8" />
<line x1="323.20000000000005" y1="308.0" x2="323.20000000000005" y2="312.8" stroke="#111" stroke-width="0.8" />
<line x1="328.6" y1="308.0" x2="328.6" y2="312.8" stroke="#111" stroke-width="0.8" />
<line x1="334.0" y1="308.0" x2="334.0" y2="312.8" stroke="#111" stroke-width="0.8" />
<text x="312.8" y="320.4" font-size="9" fill="#222" stroke="#222" stroke-width="0.22">e<tspan font-size="5.5" dy="-3.5">-</tspan></text>
<rect x="364.4" y="287.2" width="43.2" height="5.0" fill="#c8c9cc" />
<rect x="364.4" y="282.3" width="43.2" height="4.9" fill="#f0f7c2" />
<rect x="365.4" y="274.2" width="19.6" height="8.3" rx="4" fill="url(#blobG)"/>
<rect x="386.7" y="274.2" width="19.9" height="8.3" rx="4" fill="url(#blobG)"/>
<circle cx="368.20" cy="280.80" r="0.5" fill="#111"/>
<path d="M367.20,282.80 L369.20,282.80 L368.20,284.40 Z" fill="#111"/>
<circle cx="372.70" cy="280.80" r="0.5" fill="#111"/>
<path d="M371.70,282.80 L373.70,282.80 L372.70,284.40 Z" fill="#111"/>
<circle cx="377.70" cy="280.80" r="0.5" fill="#111"/>
<path d="M376.70,282.80 L378.70,282.80 L377.70,284.40 Z" fill="#111"/>
<circle cx="382.70" cy="280.80" r="0.5" fill="#111"/>
<path d="M381.70,282.80 L383.70,282.80 L382.70,284.40 Z" fill="#111"/>
<circle cx="388.50" cy="280.80" r="0.5" fill="#111"/>
<path d="M387.50,282.80 L389.50,282.80 L388.50,284.40 Z" fill="#111"/>
<circle cx="393.50" cy="280.80" r="0.5" fill="#111"/>
<path d="M392.50,282.80 L394.50,282.80 L393.50,284.40 Z" fill="#111"/>
<circle cx="398.90" cy="280.80" r="0.5" fill="#111"/>
<path d="M397.90,282.80 L399.90,282.80 L398.90,284.40 Z" fill="#111"/>
<circle cx="404.30" cy="280.80" r="0.5" fill="#111"/>
<path d="M403.30,282.80 L405.30,282.80 L404.30,284.40 Z" fill="#111"/>
<path d="M280.93,311.35 L282.20,315.60 L289.85,308.12" stroke="#3cba4c" stroke-width="2.46" stroke-linecap="round" stroke-linejoin="round" fill="none"/>
<path d="M279.99,310.84 L281.86,310.33 L282.71,314.33 L281.52,316.11 Z" fill="#3cba4c"/>
<path d="M353.52,278.23 L358.62,285.03 M359.73,277.98 L353.27,285.45" stroke="#ee2222" stroke-width="2.21" stroke-linecap="round" fill="none"/>
<text x="495.4" y="11.8" font-size="13.3" fill="#1a1a1a" text-anchor="start"  stroke="#1a1a1a" stroke-width="0.22">(e)</text>
<line x1="523.5" y1="24.5" x2="678.5" y2="24.5" stroke="#3c3c3c" stroke-width="1.1" />
<line x1="523.5" y1="24.5" x2="523.5" y2="332.5" stroke="#3c3c3c" stroke-width="1.1" />
<line x1="678.5" y1="24.5" x2="678.5" y2="332.5" stroke="#3c3c3c" stroke-width="1.1" />
<line x1="523.5" y1="101.5" x2="678.5" y2="101.5" stroke="#3c3c3c" stroke-width="1.1" />
<line x1="523.5" y1="217.5" x2="678.5" y2="217.5" stroke="#3c3c3c" stroke-width="1.1" />
<line x1="523.5" y1="332.5" x2="678.5" y2="332.5" stroke="#3c3c3c" stroke-width="1.1" />
<line x1="538.5" y1="101.5" x2="538.5" y2="98.5" stroke="#3c3c3c" stroke-width="1.1" />
<line x1="552.45" y1="101.5" x2="552.45" y2="99.9" stroke="#3c3c3c" stroke-width="1.1" />
<line x1="566.4" y1="101.5" x2="566.4" y2="98.5" stroke="#3c3c3c" stroke-width="1.1" />
<line x1="580.35" y1="101.5" x2="580.35" y2="99.9" stroke="#3c3c3c" stroke-width="1.1" />
<line x1="594.3000000000001" y1="101.5" x2="594.3000000000001" y2="98.5" stroke="#3c3c3c" stroke-width="1.1" />
<line x1="608.25" y1="101.5" x2="608.25" y2="99.9" stroke="#3c3c3c" stroke-width="1.1" />
<line x1="622.2" y1="101.5" x2="622.2" y2="98.5" stroke="#3c3c3c" stroke-width="1.1" />
<line x1="636.15" y1="101.5" x2="636.15" y2="99.9" stroke="#3c3c3c" stroke-width="1.1" />
<line x1="650.1" y1="101.5" x2="650.1" y2="98.5" stroke="#3c3c3c" stroke-width="1.1" />
<line x1="664.0500000000001" y1="101.5" x2="664.0500000000001" y2="99.9" stroke="#3c3c3c" stroke-width="1.1" />
<line x1="678.0" y1="101.5" x2="678.0" y2="98.5" stroke="#3c3c3c" stroke-width="1.1" />
<line x1="538.5" y1="217.5" x2="538.5" y2="214.5" stroke="#3c3c3c" stroke-width="1.1" />
<line x1="552.45" y1="217.5" x2="552.45" y2="215.9" stroke="#3c3c3c" stroke-width="1.1" />
<line x1="566.4" y1="217.5" x2="566.4" y2="214.5" stroke="#3c3c3c" stroke-width="1.1" />
<line x1="580.35" y1="217.5" x2="580.35" y2="215.9" stroke="#3c3c3c" stroke-width="1.1" />
<line x1="594.3000000000001" y1="217.5" x2="594.3000000000001" y2="214.5" stroke="#3c3c3c" stroke-width="1.1" />
<line x1="608.25" y1="217.5" x2="608.25" y2="215.9" stroke="#3c3c3c" stroke-width="1.1" />
<line x1="622.2" y1="217.5" x2="622.2" y2="214.5" stroke="#3c3c3c" stroke-width="1.1" />
<line x1="636.15" y1="217.5" x2="636.15" y2="215.9" stroke="#3c3c3c" stroke-width="1.1" />
<line x1="650.1" y1="217.5" x2="650.1" y2="214.5" stroke="#3c3c3c" stroke-width="1.1" />
<line x1="664.0500000000001" y1="217.5" x2="664.0500000000001" y2="215.9" stroke="#3c3c3c" stroke-width="1.1" />
<line x1="678.0" y1="217.5" x2="678.0" y2="214.5" stroke="#3c3c3c" stroke-width="1.1" />
<line x1="538.5" y1="332.5" x2="538.5" y2="335.5" stroke="#3c3c3c" stroke-width="1.1" />
<line x1="552.45" y1="332.5" x2="552.45" y2="334.1" stroke="#3c3c3c" stroke-width="1.1" />
<line x1="566.4" y1="332.5" x2="566.4" y2="335.5" stroke="#3c3c3c" stroke-width="1.1" />
<line x1="580.35" y1="332.5" x2="580.35" y2="334.1" stroke="#3c3c3c" stroke-width="1.1" />
<line x1="594.3000000000001" y1="332.5" x2="594.3000000000001" y2="335.5" stroke="#3c3c3c" stroke-width="1.1" />
<line x1="608.25" y1="332.5" x2="608.25" y2="334.1" stroke="#3c3c3c" stroke-width="1.1" />
<line x1="622.2" y1="332.5" x2="622.2" y2="335.5" stroke="#3c3c3c" stroke-width="1.1" />
<line x1="636.15" y1="332.5" x2="636.15" y2="334.1" stroke="#3c3c3c" stroke-width="1.1" />
<line x1="650.1" y1="332.5" x2="650.1" y2="335.5" stroke="#3c3c3c" stroke-width="1.1" />
<line x1="664.0500000000001" y1="332.5" x2="664.0500000000001" y2="334.1" stroke="#3c3c3c" stroke-width="1.1" />
<line x1="678.0" y1="332.5" x2="678.0" y2="335.5" stroke="#3c3c3c" stroke-width="1.1" />
<text x="538.5" y="343.8" font-size="9" fill="#222" text-anchor="middle"  stroke="#222" stroke-width="0.22">-0.8</text>
<text x="566.4" y="343.8" font-size="9" fill="#222" text-anchor="middle"  stroke="#222" stroke-width="0.22">-0.6</text>
<text x="594.3000000000001" y="343.8" font-size="9" fill="#222" text-anchor="middle"  stroke="#222" stroke-width="0.22">-0.4</text>
<text x="622.2" y="343.8" font-size="9" fill="#222" text-anchor="middle"  stroke="#222" stroke-width="0.22">-0.2</text>
<text x="650.1" y="343.8" font-size="9" fill="#222" text-anchor="middle"  stroke="#222" stroke-width="0.22">0.0</text>
<text x="678.0" y="343.8" font-size="9" fill="#222" text-anchor="middle"  stroke="#222" stroke-width="0.22">0.2</text>
<text x="601.2" y="358.9" font-size="10.7" fill="#111" text-anchor="middle"  stroke="#111" stroke-width="0.22">φ (V)</text>
<text transform="translate(500.6,158) rotate(-90)" font-size="10.5" fill="#111" text-anchor="middle" stroke="#111" stroke-width="0.22">J (μA cm<tspan font-size="7" dy="-3.5">-2</tspan><tspan dy="3.5">)</tspan></text>
<line x1="521.1" y1="33.8" x2="523.5" y2="33.8" stroke="#3c3c3c" stroke-width="1.1" />
<text x="520.2" y="37.0" font-size="9" fill="#222" text-anchor="end"  stroke="#222" stroke-width="0.22">150</text>
<line x1="521.1" y1="62.9" x2="523.5" y2="62.9" stroke="#3c3c3c" stroke-width="1.1" />
<text x="520.2" y="66.1" font-size="9" fill="#222" text-anchor="end"  stroke="#222" stroke-width="0.22">0</text>
<line x1="521.1" y1="92.0" x2="523.5" y2="92.0" stroke="#3c3c3c" stroke-width="1.1" />
<text x="520.2" y="95.2" font-size="9" fill="#222" text-anchor="end"  stroke="#222" stroke-width="0.22">-150</text>
<line x1="521.1" y1="119.9" x2="523.5" y2="119.9" stroke="#3c3c3c" stroke-width="1.1" />
<text x="520.2" y="123.10000000000001" font-size="9" fill="#222" text-anchor="end"  stroke="#222" stroke-width="0.22">100</text>
<line x1="521.1" y1="159.0" x2="523.5" y2="159.0" stroke="#3c3c3c" stroke-width="1.1" />
<text x="520.2" y="162.2" font-size="9" fill="#222" text-anchor="end"  stroke="#222" stroke-width="0.22">0</text>
<line x1="521.1" y1="198.1" x2="523.5" y2="198.1" stroke="#3c3c3c" stroke-width="1.1" />
<text x="520.2" y="201.29999999999998" font-size="9" fill="#222" text-anchor="end"  stroke="#222" stroke-width="0.22">-100</text>
<line x1="521.1" y1="233.14999999999998" x2="523.5" y2="233.14999999999998" stroke="#3c3c3c" stroke-width="1.1" />
<text x="520.2" y="236.34999999999997" font-size="9" fill="#222" text-anchor="end"  stroke="#222" stroke-width="0.22">50</text>
<line x1="521.1" y1="274.7" x2="523.5" y2="274.7" stroke="#3c3c3c" stroke-width="1.1" />
<text x="520.2" y="277.9" font-size="9" fill="#222" text-anchor="end"  stroke="#222" stroke-width="0.22">0</text>
<line x1="521.1" y1="316.25" x2="523.5" y2="316.25" stroke="#3c3c3c" stroke-width="1.1" />
<text x="520.2" y="319.45" font-size="9" fill="#222" text-anchor="end"  stroke="#222" stroke-width="0.22">-50</text>
<text x="669.2" y="35.0" font-size="9" fill="#1a1a1a" text-anchor="end"  stroke="#1a1a1a" stroke-width="0.22">CC</text>
<text x="668.6" y="113.4" font-size="8.6" fill="#1a1a1a" text-anchor="end"  stroke="#1a1a1a" stroke-width="0.22">PANI-FTO</text>
<text x="668.8" y="228.4" font-size="8.6" fill="#1a1a1a" text-anchor="end"  stroke="#1a1a1a" stroke-width="0.22">PANI-FTO @-0.3V</text>
<line x1="525.8" y1="108.7" x2="545.2" y2="108.7" stroke="#bc4058" stroke-width="1.5" />
<text x="549.4" y="112.0" font-size="9" fill="#1a1a1a" text-anchor="start"  stroke="#1a1a1a" stroke-width="0.22">1st</text>
<line x1="525.8" y1="119.3" x2="545.2" y2="119.3" stroke="#33943a" stroke-width="1.3" />
<text x="549.4" y="122.6" font-size="9" fill="#1a1a1a" text-anchor="start"  stroke="#1a1a1a" stroke-width="0.22">2nd</text>
<line x1="525.8" y1="129.8" x2="545.2" y2="129.8" stroke="#98d070" stroke-width="1.9" />
<text x="549.4" y="133.10000000000002" font-size="9" fill="#1a1a1a" text-anchor="start"  stroke="#1a1a1a" stroke-width="0.22">3rd</text>
<line x1="525.8" y1="140.3" x2="545.2" y2="140.3" stroke="#8ccc3c" stroke-width="1.5" />
<text x="549.4" y="143.60000000000002" font-size="9" fill="#1a1a1a" text-anchor="start"  stroke="#1a1a1a" stroke-width="0.22">4th</text>
<line x1="525.8" y1="228.2" x2="545.2" y2="228.2" stroke="#bc4058" stroke-width="1.5" />
<text x="549.4" y="231.5" font-size="9" fill="#1a1a1a" text-anchor="start"  stroke="#1a1a1a" stroke-width="0.22">1st</text>
<line x1="525.8" y1="238.6" x2="545.2" y2="238.6" stroke="#33943a" stroke-width="1.3" />
<text x="549.4" y="241.9" font-size="9" fill="#1a1a1a" text-anchor="start"  stroke="#1a1a1a" stroke-width="0.22">2nd</text>
<line x1="525.8" y1="249.0" x2="545.2" y2="249.0" stroke="#98d070" stroke-width="1.9" />
<text x="549.4" y="252.3" font-size="9" fill="#1a1a1a" text-anchor="start"  stroke="#1a1a1a" stroke-width="0.22">3rd</text>
<line x1="525.8" y1="259.3" x2="545.2" y2="259.3" stroke="#8ccc3c" stroke-width="1.5" />
<text x="549.4" y="262.6" font-size="9" fill="#1a1a1a" text-anchor="start"  stroke="#1a1a1a" stroke-width="0.22">4th</text>
<path d="M537.20,72.90 C538.50,72.50 541.20,71.15 545.00,70.50 C548.80,69.85 555.00,69.45 560.00,69.00 C565.00,68.55 571.33,68.38 575.00,67.80 C578.67,67.22 580.17,66.80 582.00,65.50 C583.83,64.20 584.83,62.58 586.00,60.00 C587.17,57.42 587.88,52.78 589.00,50.00 C590.12,47.22 591.53,43.30 592.70,43.30 C593.87,43.30 595.03,47.55 596.00,50.00 C596.97,52.45 597.67,56.05 598.50,58.00 C599.33,59.95 599.75,60.90 601.00,61.70 C602.25,62.50 603.67,62.58 606.00,62.80 C608.33,63.02 609.33,63.05 615.00,63.00 C620.67,62.95 631.67,62.70 640.00,62.50 C648.33,62.30 660.83,61.92 665.00,61.80" fill="none" stroke="#a81e3e" stroke-width="1.2"/>
<path d="M665.00,62.50 C660.83,62.67 648.33,63.05 640.00,63.50 C631.67,63.95 620.50,64.45 615.00,65.20 C609.50,65.95 609.42,66.70 607.00,68.00 C604.58,69.30 602.50,70.67 600.50,73.00 C598.50,75.33 596.42,79.00 595.00,82.00 C593.58,85.00 592.88,88.77 592.00,91.00 C591.12,93.23 590.53,95.40 589.70,95.40 C588.87,95.40 588.12,93.23 587.00,91.00 C585.88,88.77 585.00,84.50 583.00,82.00 C581.00,79.50 578.83,77.33 575.00,76.00 C571.17,74.67 565.00,74.42 560.00,74.00 C555.00,73.58 548.80,73.68 545.00,73.50 C541.20,73.32 538.50,73.00 537.20,72.90" fill="none" stroke="#a81e3e" stroke-width="1.2"/>
<path d="M664.00,139.00 C662.67,141.00 659.00,147.75 656.00,151.00 C653.00,154.25 650.33,156.25 646.00,158.50 C641.67,160.75 637.67,163.00 630.00,164.50 C622.33,166.00 610.00,167.08 600.00,167.50 C590.00,167.92 580.33,167.32 570.00,167.00 C559.67,166.68 538.00,166.18 538.00,165.60 C538.00,165.02 558.00,164.43 570.00,163.50 C582.00,162.57 598.33,161.25 610.00,160.00 C621.67,158.75 632.33,157.67 640.00,156.00 C647.67,154.33 652.00,152.17 656.00,150.00 C660.00,147.83 662.67,144.17 664.00,143.00" fill="none" stroke="#8ccc3c" stroke-width="1.2"/>
<path d="M664.00,131.00 C662.67,134.17 659.00,145.08 656.00,150.00 C653.00,154.92 650.33,157.67 646.00,160.50 C641.67,163.33 636.00,165.67 630.00,167.00 C624.00,168.33 618.33,168.33 610.00,168.50 C601.67,168.67 588.33,168.20 580.00,168.00 C571.67,167.80 567.00,167.58 560.00,167.30 C553.00,167.02 538.00,166.77 538.00,166.30 C538.00,165.83 551.33,165.13 560.00,164.50 C568.67,163.87 580.00,163.42 590.00,162.50 C600.00,161.58 611.33,160.25 620.00,159.00 C628.67,157.75 636.00,157.17 642.00,155.00 C648.00,152.83 652.33,149.33 656.00,146.00 C659.67,142.67 662.67,136.83 664.00,135.00" fill="none" stroke="#98d070" stroke-width="1.2"/>
<path d="M664.00,122.50 C663.13,124.70 660.70,131.08 658.80,135.70 C656.90,140.32 654.67,145.37 652.60,150.20 C650.53,155.03 649.17,159.87 646.40,164.70 C643.63,169.53 639.45,175.82 636.00,179.20 C632.55,182.58 630.87,183.87 625.70,185.00 C620.53,186.13 611.78,186.03 605.00,186.00 C598.22,185.97 591.17,185.47 585.00,184.80 C578.83,184.13 573.50,183.30 568.00,182.00 C562.50,180.70 557.00,178.45 552.00,177.00 C547.00,175.55 539.00,174.63 538.00,173.30 C537.00,171.97 543.00,170.17 546.00,169.00 C549.00,167.83 551.17,167.05 556.00,166.30 C560.83,165.55 567.17,165.25 575.00,164.50 C582.83,163.75 593.50,162.88 603.00,161.80 C612.50,160.72 624.17,159.97 632.00,158.00 C639.83,156.03 645.33,153.33 650.00,150.00 C654.67,146.67 657.67,141.67 660.00,138.00 C662.33,134.33 663.33,129.67 664.00,128.00" fill="none" stroke="#33943a" stroke-width="1.2"/>
<path d="M664.40,160.20 C662.83,160.58 659.07,161.37 655.00,162.50 C650.93,163.63 645.83,165.38 640.00,167.00 C634.17,168.62 626.67,170.67 620.00,172.20 C613.33,173.73 607.67,174.28 600.00,176.20 C592.33,178.12 581.33,181.60 574.00,183.70 C566.67,185.80 560.83,187.40 556.00,188.80 C551.17,190.20 548.00,190.93 545.00,192.10 C542.00,193.27 537.50,195.12 538.00,195.80 C538.50,196.48 544.33,196.23 548.00,196.20 C551.67,196.17 556.00,195.67 560.00,195.60 C564.00,195.53 568.67,195.27 572.00,195.80 C575.33,196.33 577.33,197.27 580.00,198.80 C582.67,200.33 585.50,202.97 588.00,205.00 C590.50,207.03 592.83,210.08 595.00,211.00 C597.17,211.92 598.83,212.00 601.00,210.50 C603.17,209.00 605.67,204.92 608.00,202.00 C610.33,199.08 612.05,196.80 615.00,193.00 C617.95,189.20 622.20,183.92 625.70,179.20 C629.20,174.48 632.55,169.53 636.00,164.70 C639.45,159.87 642.93,155.20 646.40,150.20 C649.87,145.20 653.83,139.48 656.80,134.70 C659.77,129.92 662.97,123.70 664.20,121.50" fill="none" stroke="#a81e3e" stroke-width="1.2"/>
<line x1="664.4" y1="174.5" x2="664.4" y2="165.0" stroke="#e84030" stroke-width="1.2" />
<path d="M662.4,166.5 L666.4,166.5 L664.4,161.8 Z" fill="#e84030"/>
<text x="653.8" y="186.0" font-size="8.6" fill="#e84030" text-anchor="start"  stroke="#e84030" stroke-width="0.22">start</text>
<path d="M537.50,290.40 C539.58,290.03 545.42,288.97 550.00,288.20 C554.58,287.43 560.00,286.65 565.00,285.80 C570.00,284.95 575.50,283.92 580.00,283.10 C584.50,282.28 588.33,281.53 592.00,280.90 C595.67,280.27 598.83,279.85 602.00,279.30 C605.17,278.75 608.00,278.25 611.00,277.60 C614.00,276.95 616.83,276.30 620.00,275.40 C623.17,274.50 626.67,273.40 630.00,272.20 C633.33,271.00 637.00,269.63 640.00,268.20 C643.00,266.77 645.50,265.37 648.00,263.60 C650.50,261.83 653.00,259.43 655.00,257.60 C657.00,255.77 658.47,254.20 660.00,252.60 C661.53,251.00 663.87,248.18 664.20,248.00 C664.53,247.82 663.33,249.17 662.00,251.50 C660.67,253.83 658.53,258.42 656.20,262.00 C653.87,265.58 650.70,269.53 648.00,273.00 C645.30,276.47 642.50,280.20 640.00,282.80 C637.50,285.40 635.27,287.30 633.00,288.60 C630.73,289.90 628.60,290.32 626.40,290.60 C624.20,290.88 623.10,290.43 619.80,290.30 C616.50,290.17 610.23,289.87 606.60,289.80 C602.97,289.73 601.10,289.63 598.00,289.90 C594.90,290.17 591.33,290.98 588.00,291.40 C584.67,291.82 581.83,292.15 578.00,292.40 C574.17,292.65 569.67,292.88 565.00,292.90 C560.33,292.92 554.58,292.85 550.00,292.50 C545.42,292.15 539.58,291.08 537.50,290.80" fill="none" stroke="#a81e3e" stroke-width="1.1"/>
<path d="M607.00,307.40 C606.98,306.17 607.00,302.37 606.90,300.00 C606.80,297.63 606.80,294.77 606.40,293.20 C606.00,291.63 605.40,291.17 604.50,290.60 C603.60,290.03 602.08,289.92 601.00,289.80 C599.92,289.68 598.50,289.88 598.00,289.90" fill="none" stroke="#a81e3e" stroke-width="1.1"/>
<path d="M537.50,291.40 C539.58,291.10 545.42,290.28 550.00,289.60 C554.58,288.92 560.00,288.12 565.00,287.30 C570.00,286.48 575.50,285.50 580.00,284.70 C584.50,283.90 588.33,283.13 592.00,282.50 C595.67,281.87 598.83,281.43 602.00,280.90 C605.17,280.37 608.00,279.93 611.00,279.30 C614.00,278.67 616.83,277.98 620.00,277.10 C623.17,276.22 626.67,275.18 630.00,274.00 C633.33,272.82 637.00,271.43 640.00,270.00 C643.00,268.57 645.50,267.13 648.00,265.40 C650.50,263.67 653.00,261.33 655.00,259.60 C657.00,257.87 658.50,256.33 660.00,255.00 C661.50,253.67 663.75,251.43 664.00,251.60 C664.25,251.77 662.80,253.83 661.50,256.00 C660.20,258.17 658.45,261.27 656.20,264.60 C653.95,267.93 650.70,272.72 648.00,276.00 C645.30,279.28 642.50,282.43 640.00,284.30 C637.50,286.17 635.83,286.47 633.00,287.20 C630.17,287.93 627.40,288.30 623.00,288.70 C618.60,289.10 612.10,289.33 606.60,289.60 C601.10,289.87 595.60,290.05 590.00,290.30 C584.40,290.55 578.83,290.73 573.00,291.10 C567.17,291.47 560.92,292.05 555.00,292.50 C549.08,292.95 540.42,293.58 537.50,293.80 L537.5,291.4" fill="none" stroke="#33943a" stroke-width="1.0"/>
<path d="M537.50,291.70 C539.58,291.40 545.42,290.58 550.00,289.90 C554.58,289.22 560.00,288.42 565.00,287.60 C570.00,286.78 575.50,285.80 580.00,285.00 C584.50,284.20 588.33,283.43 592.00,282.80 C595.67,282.17 598.83,281.73 602.00,281.20 C605.17,280.67 608.00,280.23 611.00,279.60 C614.00,278.97 616.83,278.28 620.00,277.40 C623.17,276.52 626.67,275.48 630.00,274.30 C633.33,273.12 637.00,271.73 640.00,270.30 C643.00,268.87 645.50,267.43 648.00,265.70 C650.50,263.97 653.00,261.63 655.00,259.90 C657.00,258.17 658.50,256.63 660.00,255.30 C661.50,253.97 663.75,251.73 664.00,251.90 C664.25,252.07 662.80,254.13 661.50,256.30 C660.20,258.47 658.45,261.57 656.20,264.90 C653.95,268.23 650.70,273.02 648.00,276.30 C645.30,279.58 642.50,282.73 640.00,284.60 C637.50,286.47 635.83,286.77 633.00,287.50 C630.17,288.23 627.40,288.60 623.00,289.00 C618.60,289.40 612.10,289.63 606.60,289.90 C601.10,290.17 595.60,290.35 590.00,290.60 C584.40,290.85 578.83,291.03 573.00,291.40 C567.17,291.77 560.92,292.35 555.00,292.80 C549.08,293.25 540.42,293.88 537.50,294.10 L537.5,291.7" fill="none" stroke="#98d070" stroke-width="1.3"/>
<path d="M537.50,290.80 C539.58,290.50 545.42,289.68 550.00,289.00 C554.58,288.32 560.00,287.52 565.00,286.70 C570.00,285.88 575.50,284.90 580.00,284.10 C584.50,283.30 588.33,282.53 592.00,281.90 C595.67,281.27 598.83,280.83 602.00,280.30 C605.17,279.77 608.00,279.33 611.00,278.70 C614.00,278.07 616.83,277.38 620.00,276.50 C623.17,275.62 626.67,274.58 630.00,273.40 C633.33,272.22 637.00,270.83 640.00,269.40 C643.00,267.97 645.50,266.53 648.00,264.80 C650.50,263.07 653.00,260.73 655.00,259.00 C657.00,257.27 658.50,255.73 660.00,254.40 C661.50,253.07 663.75,250.83 664.00,251.00 C664.25,251.17 662.80,253.23 661.50,255.40 C660.20,257.57 658.45,260.67 656.20,264.00 C653.95,267.33 650.70,272.12 648.00,275.40 C645.30,278.68 642.50,281.83 640.00,283.70 C637.50,285.57 635.83,285.87 633.00,286.60 C630.17,287.33 627.40,287.70 623.00,288.10 C618.60,288.50 612.10,288.73 606.60,289.00 C601.10,289.27 595.60,289.45 590.00,289.70 C584.40,289.95 578.83,290.13 573.00,290.50 C567.17,290.87 560.92,291.45 555.00,291.90 C549.08,292.35 540.42,292.98 537.50,293.20 L537.5,290.79999999999995" fill="none" stroke="#8ccc3c" stroke-width="1.3"/>
<line x1="620.5" y1="313.6" x2="610.5" y2="308.2" stroke="#e84030" stroke-width="1.2" />
<path d="M608.6,307.1 L613.2,307.6 L611.3,311.0 Z" fill="#e84030"/>
<text x="622.2" y="319.4" font-size="8.6" fill="#e84030" text-anchor="start"  stroke="#e84030" stroke-width="0.22">start</text>
</g>
</svg></body></html>
